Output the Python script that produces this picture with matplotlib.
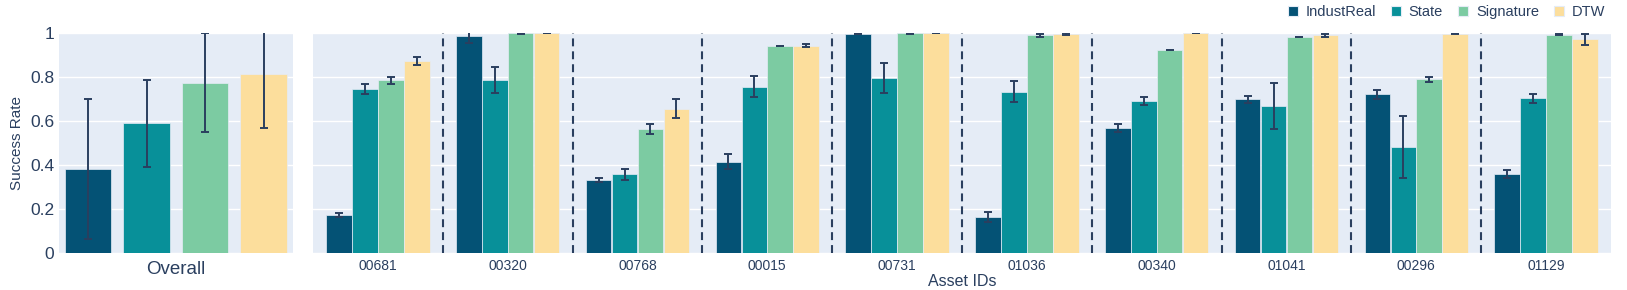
import matplotlib
matplotlib.use("Agg")
import matplotlib.pyplot as plt
from matplotlib.patches import Patch
import numpy as np

# ---------------- data ----------------
assets = ['00681', '00320', '00768', '00015', '00731', '01036', '00340', '01041', '00296', '01129']
methods = ['IndustReal', 'State', 'Signature', 'DTW']

industreal = [0.173, 0.988, 0.332, 0.415, 0.997, 0.165, 0.568, 0.698, 0.721, 0.358]
industreal_err = [0.010, 0.032, 0.010, 0.033, 0.003, 0.023, 0.018, 0.015, 0.022, 0.019]
state = [0.744, 0.786, 0.358, 0.756, 0.795, 0.733, 0.689, 0.670, 0.483, 0.703]
state_err = [0.022, 0.058, 0.025, 0.047, 0.070, 0.048, 0.018, 0.105, 0.141, 0.020]
signature = [0.785, 0.998, 0.564, 0.941, 0.999, 0.989, 0.923, 0.982, 0.789, 0.992]
signature_err = [0.017, 0.002, 0.023, 0.002, 0.002, 0.007, 0.002, 0.002, 0.010, 0.003]
dtw = [0.873, 1.000, 0.656, 0.942, 1.000, 0.997, 1.000, 0.989, 0.997, 0.971]
dtw_err = [0.019, 0.002, 0.042, 0.007, 0.002, 0.005, 0.002, 0.006, 0.002, 0.024]

overall = [0.382, 0.590, 0.773, 0.814]
overall_err = [0.320, 0.197, 0.225, 0.244]

yticks = [0, 0.2, 0.4, 0.6, 0.8, 1]
ytick_labels = ['0', '0.2', '0.4', '0.6', '0.8', '1']

colors = ['#045275', '#089099', '#7CCBA2', '#FCDE9C']
# --------------------------------------

plt.rcParams['font.family'] = ['Liberation Sans', 'DejaVu Sans']
TXT = '#2a3f5f'
BG = '#E5ECF6'

W, H = 1627, 290
fig = plt.figure(figsize=(W / 100, H / 100), dpi=100)

def box(x0, x1, ytop, ybot):
    return [x0 / W, 1 - ybot / H, (x1 - x0) / W, (ybot - ytop) / H]

axL = fig.add_axes(box(59, 293, 33, 253))
axR = fig.add_axes(box(313, 1611, 33, 253))

for ax in (axL, axR):
    ax.set_facecolor(BG)
    for s in ax.spines.values():
        s.set_visible(False)
    ax.set_ylim(0, 1)
    ax.set_yticks(yticks)
    ax.yaxis.grid(True, color='white', linewidth=1.0)
    ax.set_axisbelow(True)
    ax.tick_params(length=0)

err_kw = dict(ecolor=TXT, elinewidth=1.4, capsize=2.8, capthick=1.4)

# Left panel: overall
offL = [-0.376, -0.126, 0.124, 0.374]
for i in range(4):
    axL.bar(offL[i], overall[i], width=0.197, color=colors[i], edgecolor=BG,
            linewidth=0.5, yerr=overall_err[i], error_kw=err_kw, zorder=2)
axL.set_xlim(-0.5, 0.5)
axL.set_xticks([0])
axL.set_xticklabels(['Overall'], fontsize=13.5, color=TXT)
axL.set_yticklabels(ytick_labels, fontsize=12.5, color=TXT)
axL.tick_params(axis='x', pad=6)
axL.set_ylabel('Success Rate', fontsize=11, color=TXT, labelpad=4)

# Right panel: per asset
series = [industreal, state, signature, dtw]
errs = [industreal_err, state_err, signature_err, dtw_err]
x = np.arange(len(assets))
offR = [-0.3, -0.1, 0.1, 0.3]
for i in range(4):
    axR.bar(x + offR[i], series[i], width=0.197, color=colors[i], edgecolor=BG,
            linewidth=0.5, yerr=errs[i], error_kw=err_kw, zorder=2)
axR.set_xlim(-0.5, len(assets) - 0.5)
axR.set_xticks(x)
axR.set_xticklabels(assets, fontsize=10, color=TXT)
axR.tick_params(axis='x', pad=4)
axR.set_yticklabels([])
axR.set_xlabel('Asset IDs', fontsize=11.5, color=TXT, labelpad=1)
for b in x[:-1]:
    axR.axvline(b + 0.5, color=TXT, linestyle=(0, (3.8, 2.4)), linewidth=1.5, zorder=3)

handles = [Patch(facecolor=c, edgecolor=BG, linewidth=0.8) for c in colors]
fig.legend(handles, methods, loc='upper right', bbox_to_anchor=(1608 / W, 1 - 2 / H),
           ncol=4, frameon=False, fontsize=10.5, labelcolor=TXT,
           handlelength=0.65, handleheight=0.65, handletextpad=0.55, columnspacing=1.05,
           borderaxespad=0, borderpad=0.2)

fig.savefig('out.png', dpi=100)
